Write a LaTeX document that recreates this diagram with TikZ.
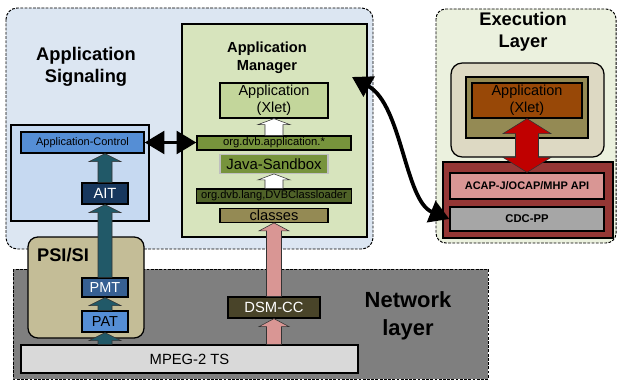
\documentclass[tikz,border=0pt]{standalone}
\usepackage{fontspec}
\setmainfont{Liberation Sans}
\usetikzlibrary{arrows.meta, positioning, calc}
\definecolor{sigbg}{HTML}{DCE6F2}
\definecolor{ctrlbg}{HTML}{C6D9F1}
\definecolor{ctrlblue}{HTML}{558ED5}
\definecolor{aitblue}{HTML}{17375E}
\definecolor{amgreen}{HTML}{D7E4BD}
\definecolor{xletgreen}{HTML}{C3D69B}
\definecolor{olivebar}{HTML}{77933C}
\definecolor{darkbar}{HTML}{4F6228}
\definecolor{khakibar}{HTML}{948A54}
\definecolor{pinkbar}{HTML}{D99694}
\definecolor{dsmbrown}{HTML}{494429}
\definecolor{netgray}{HTML}{7F7F7F}
\definecolor{mpeggray}{HTML}{D9D9D9}
\definecolor{psibg}{HTML}{C4BD97}
\definecolor{pmtblue}{HTML}{376092}
\definecolor{patblue}{HTML}{558ED5}
\definecolor{tealarrow}{HTML}{215968}
\definecolor{execbg}{HTML}{EBF1DE}
\definecolor{beigebg}{HTML}{DDD9C3}
\definecolor{xletbrown}{HTML}{984807}
\definecolor{redarrow}{HTML}{C00000}
\definecolor{apired}{HTML}{953735}
\definecolor{cdcgray}{HTML}{A6A6A6}

% fat block arrow: start, tip, fill, shaft half width, head half width, head length
\newcommand{\blockarrow}[6]{%
  \filldraw[fill=#3, draw=black!80, line width=0.4pt]
    ($#1+(-#4,0)$) -- ($#2+(-#4,#6)$) -- ($#2+(-#5,#6)$) -- #2
    -- ($#2+(#5,#6)$) -- ($#2+(#4,#6)$) -- ($#1+(#4,0)$) -- cycle;}
% same with two heads: top tip, bottom tip, ...
\newcommand{\blockdarrow}[6]{%
  \filldraw[fill=#3, draw=black!80, line width=0.4pt]
    #1 -- ($#1+(#5,#6)$) -- ($#1+(#4,#6)$) -- ($#2+(#4,-#6)$) -- ($#2+(#5,-#6)$) -- #2
    -- ($#2+(-#5,-#6)$) -- ($#2+(-#4,-#6)$) -- ($#1+(-#4,#6)$) -- ($#1+(-#5,#6)$) -- cycle;}

\begin{document}
\begin{tikzpicture}[
    x=0.025cm, y=-0.025cm,
    box/.style={draw=black, line width=0.9pt, inner sep=0pt, align=center},
    boxsize/.style 2 args={minimum width=#1*0.025cm, minimum height=#2*0.025cm},
    layer/.style={draw=black, line width=0.7pt, dash pattern=on 2pt off 1pt},
    layertitle/.style={align=center, font=\bfseries\fontsize{13}{15.6}\selectfont},
    bigarrow/.style={{Triangle[length=14pt,width=16pt]}-{Triangle[length=14pt,width=16pt]}, line width=2.7pt}
]
\useasboundingbox (0,0) rectangle (617,381);

% layers
\draw[layer, fill=sigbg, rounded corners=8pt] (6,8) rectangle (373,249);
\draw[layer, fill=execbg, rounded corners=7pt] (436,9) rectangle (616,243);
\draw[layer, fill=netgray] (13,269) rectangle (488,379);

% application signaling
\node[layertitle] (sigtitle) at (86,67) {Application\\Signaling};
\node[box, boxsize={138}{96}, fill=ctrlbg] (ctrlpanel) at (80,173) {};
\node[box, boxsize={123}{21}, fill=ctrlblue, font=\fontsize{7.8}{9}\selectfont] (appctrl) at (82.5,142.5) {Application-Control};
\node[box, boxsize={46}{21}, fill=aitblue, text=white, font=\fontsize{10.5}{12}\selectfont] (ait) at (105,193.5) {AIT};

% application manager
\node[box, boxsize={185}{213}, fill=amgreen] (am) at (274.5,130.5) {};
\node[align=center, font=\bfseries\fontsize{10.4}{12.5}\selectfont] (amtitle) at (267,58) {Application\\Manager};
\node[box, boxsize={108}{35}, fill=xletgreen, font=\fontsize{10.3}{12.4}\selectfont] (amxlet) at (274,100.5) {Application\\(Xlet)};
\node[box, boxsize={154}{14}, fill=olivebar, font=\fontsize{8}{9}\selectfont] (orgapp) at (274,143) {org.dvb.application.*};
\node[box, draw=black!25, boxsize={108}{19}, fill=olivebar, font=\fontsize{10.6}{12}\selectfont, below=0.075cm of orgapp] (sandbox) {Java-Sandbox};
\node[box, boxsize={155}{14}, fill=darkbar, font=\fontsize{7.9}{9}\selectfont] (orglang) at (274,196) {org.dvb.lang,DVBClassloader};
\node[box, boxsize={108}{14}, fill=khakibar, text depth=0pt, font=\fontsize{10.4}{12}\selectfont, below=0.1cm of orglang] (classes) {classes};
\coordinate (amport) at (352,77);

% network layer
\node[box, boxsize={92}{21}, fill=dsmbrown, text=white, font=\fontsize{10.5}{12}\selectfont] (dsmcc) at (274,307.5) {DSM-CC};
\node[align=center, font=\bfseries\fontsize{15.6}{19.5}\selectfont] (nettitle) at (408,316) {Network\\layer};
\node[box, boxsize={337}{28}, fill=mpeggray, font=\fontsize{10.5}{12}\selectfont] (mpeg) at (189.5,359) {MPEG-2 TS};

% PSI/SI
\node[box, boxsize={116}{101}, fill=psibg, rounded corners=7pt] (psi) at (86,287.5) {};
\node[layertitle] (psititle) at (63,255) {PSI/SI};
\node[box, boxsize={46}{19}, fill=pmtblue, text=white, font=\fontsize{10.3}{12}\selectfont] (pmt) at (105,287.5) {PMT};
\node[box, boxsize={46}{21}, fill=patblue, font=\fontsize{10.3}{12}\selectfont] (pat) at (105,321.5) {PAT};

% execution layer
\node[layertitle] (exectitle) at (523,32) {Execution\\Layer};
\node[box, boxsize={153}{94}, fill=beigebg, rounded corners=8pt] (execframe) at (527.5,110) {};
\node[box, boxsize={122}{61}, fill=khakibar] (execolive) at (527,107.5) {};
\node[box, boxsize={110}{35}, fill=xletbrown, font=\fontsize{10.3}{12.4}\selectfont] (exxlet) at (527,100.5) {Application\\(Xlet)};
\node[box, boxsize={170}{76}, fill=apired] (apibox) at (528,200) {};
\node[box, boxsize={154}{26}, fill=pinkbar, font=\bfseries\fontsize{7.8}{9}\selectfont] (acap) at (527,186) {ACAP-J/OCAP/MHP API};
\node[box, boxsize={154}{24}, fill=cdcgray, font=\bfseries\fontsize{8}{9}\selectfont] (cdc) at (527,219) {CDC-PP};

% block arrows
\blockarrow{(mpeg.north -| pat)}{(pat.south)}{tealarrow}{7}{16}{8}
\blockarrow{(pat.north)}{(pmt.south)}{tealarrow}{7}{16}{8}
\blockarrow{(pmt.north)}{(ait.south)}{tealarrow}{7}{16}{8}
\blockarrow{(ait.north)}{(ait.north |- appctrl.south)}{tealarrow}{7}{16}{8}
\blockarrow{(mpeg.north -| dsmcc)}{(dsmcc.south)}{pinkbar}{7.5}{15}{8}
\blockarrow{(dsmcc.north)}{(classes.south)}{pinkbar}{7.5}{15}{8}
\blockarrow{(orgapp.north)}{(amxlet.south)}{white}{9}{16}{6}
\blockarrow{(orglang.north)}{(sandbox.south)}{white}{9}{16}{6}
\blockdarrow{(exxlet.south)}{(acap.north)}{redarrow}{11.5}{24}{15}

% black connectors
\draw[bigarrow] (appctrl.east) -- (appctrl.east -| orgapp.west);
\draw[bigarrow] (amport) .. controls (402,105) and (405,201) .. (cdc.west);
\end{tikzpicture}
\end{document}
